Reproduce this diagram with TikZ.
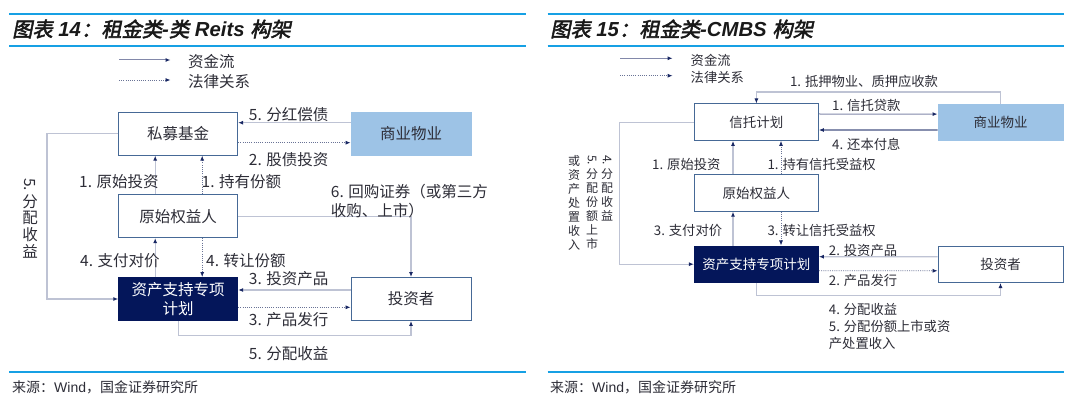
\documentclass[tikz,border=0pt]{standalone}
\usepackage{fontspec}
\setmainfont{Noto Sans CJK SC}
\newfontfamily\latinsans{Liberation Sans}
\newfontfamily\titlecjk{Noto Sans CJK SC}[FakeBold=2.5,FakeSlant=0.2]
\usetikzlibrary{arrows.meta}

\definecolor{ruleblue}{RGB}{22,160,228}
\definecolor{boxblue}{RGB}{70,105,150}
\definecolor{navy}{RGB}{4,22,90}
\definecolor{lightblue}{RGB}{157,195,230}
\definecolor{flowgrey}{RGB}{190,195,212}
\definecolor{legendgrey}{RGB}{130,136,170}
\definecolor{legalgrey}{RGB}{105,115,150}
\definecolor{tipnavy}{RGB}{25,40,100}
\definecolor{txt}{RGB}{45,45,55}

\newcommand\tlat[1]{{\latinsans\bfseries\itshape #1}}
\newcommand\sidenum[1]{\raisebox{0.8em}{\rotatebox{-90}{#1}}}

\tikzset{
  rule/.style={draw=ruleblue, line width=2pt},
  ttl/.style={inner sep=0pt, anchor=west, text=black!90, font=\fontsize{20.3}{23}\selectfont},
  src/.style={inner sep=0pt, anchor=west, text=txt, font=\fontsize{14}{16}\selectfont},
  box/.style={draw=boxblue, line width=0.9pt, fill=white, inner sep=0pt, text=txt},
  bigbox/.style={box, minimum width=119pt, minimum height=43pt, font=\fontsize{15.5}{18.3}\selectfont},
  smallbox/.style={box, minimum width=124pt, minimum height=36.5pt, font=\fontsize{13.5}{16}\selectfont},
  prop/.style={fill=lightblue, draw=lightblue},
  plan/.style={fill=navy, draw=navy, text=white},
  flow/.style={draw=flowgrey, line width=1.3pt, -{Latex[length=5pt,width=4pt,color=tipnavy]}},
  legal/.style={draw=legalgrey, line width=0.8pt, dash pattern=on 1pt off 1.2pt, -{Latex[length=5pt,width=4pt,color=tipnavy]}},
  lbl/.style={inner sep=0pt, anchor=west, text=txt, font=\fontsize{15.5}{19}\selectfont},
  lbltwo/.style={inner sep=0pt, anchor=west, text=txt, font=\fontsize{13.3}{17}\selectfont},
  vlbl/.style={inner sep=0pt, align=center, text=txt, font=\fontsize{15.5}{16.7}\selectfont},
  vlbltwo/.style={inner sep=0pt, anchor=north, align=center, text=txt, font=\fontsize{12}{14}\selectfont}
}

\begin{document}
\begin{tikzpicture}[x=1pt, y=-1pt]
	\fill[white] (0,0) rectangle (1080,401);
	\useasboundingbox (0,0) rectangle (1080,401);
	
	% left: rent class REITs
	\draw[rule] (9.3,14) -- (526,14);
	\draw[rule] (9.3,45.7) -- (526,45.7);
	\draw[rule] (9.3,372) -- (526,372);
	\node[ttl] (t14) at (12,29) {{\titlecjk 图表}\tlat{ 14}{\titlecjk ：租金类}\tlat{-}{\titlecjk 类}\tlat{ Reits }{\titlecjk 构架}};
	
	\coordinate (lga) at (119,60);
	\coordinate (lgb) at (119,80);
	\draw[flow, draw=legendgrey, line width=1pt] (lga) -- ++(51.5,0);
	\draw[legal] (lgb) -- ++(51.5,0);
	\node[lbl] (lgt1) at (188,62) {资金流};
	\node[lbl] (lgt2) at (188,82) {法律关系};
	
	\node[bigbox] (pm) at (178.2,133.7) {私募基金};
	\node[bigbox, prop, minimum width=120pt] (sy) at (411,133.7) {商业物业};
	\node[bigbox] (ys) at (178.2,216.2) {原始权益人};
	\node[bigbox, plan, align=center] (zc) at (178.2,299) {资产支持专项\\计划};
	\node[bigbox, minimum width=120pt] (tz) at (411,299) {投资者};
	
	\draw[flow] ([yshift=11pt]sy.west) -- ([yshift=11pt]pm.east);
	\draw[legal] ([yshift=-9pt]pm.east) -- ([yshift=-9pt]sy.west);
	\draw[flow] (pm.west) -- ++(-71.3,0) |- (zc.west);
	\draw[flow] ([xshift=-23pt]ys.north) -- ([xshift=-23pt]pm.south);
	\draw[legal] ([xshift=24pt]ys.north) -- ([xshift=24pt]pm.south);
	\draw[flow] ([xshift=-23pt]zc.north) -- ([xshift=-23pt]ys.south);
	\draw[legal] ([xshift=24pt]ys.south) -- ([xshift=24pt]zc.north);
	\draw[flow] (ys.east) -| (tz.north);
	\draw[flow] ([yshift=9pt]tz.west) -- ([yshift=9pt]zc.east);
	\draw[legal] ([yshift=-8.3pt]zc.east) -- ([yshift=-8.3pt]tz.west);
	\draw[flow] (zc.south) -- ++(0,14.3) -| (tz.south);
	
	\node[lbl] (l5a) at (248.7,115) {5. 分红偿债};
	\node[lbl] (l2a) at (248.7,159.3) {2. 股债投资};
	\node[lbl] (l1a) at (79,182) {1. 原始投资};
	\node[lbl] (l1b) at (201.5,182) {1. 持有份额};
	\node[lbl, anchor=north west, align=left] (l6) at (330.7,184) {6. 回购证券（或第三方\\收购、上市）};
	\node[lbl] (l4a) at (80,260.7) {4. 支付对价};
	\node[lbl] (l4b) at (206,260.7) {4. 转让份额};
	\node[lbl] (l3a) at (248.7,278.3) {3. 投资产品};
	\node[lbl] (l3b) at (248.7,319.3) {3. 产品发行};
	\node[lbl] (l5b) at (248.7,354) {5. 分配收益};
	\node[vlbl] (l5c) at (30,218) {\sidenum{5.}\\分\\配\\收\\益};
	
	\node[src] (s14) at (12,387) {来源：{\latinsans Wind}，国金证券研究所};
	
	% right: rent class CMBS
	\draw[rule] (547.6,14) -- (1064,14);
	\draw[rule] (547.6,45.7) -- (1064,45.7);
	\draw[rule] (547.6,372) -- (1064,372);
	\node[ttl] (t15) at (550,29) {{\titlecjk 图表}\tlat{ 15}{\titlecjk ：租金类}\tlat{-CMBS }{\titlecjk 构架}};
	
	\coordinate (rga) at (620,58.3);
	\coordinate (rgb) at (620,75.7);
	\draw[flow, draw=legendgrey, line width=1pt] (rga) -- ++(52.6,0);
	\draw[legal] (rgb) -- ++(52.6,0);
	\node[lbltwo] (rgt1) at (690.5,60) {资金流};
	\node[lbltwo] (rgt2) at (690.5,77) {法律关系};
	
	\node[smallbox] (xt) at (756.4,122.2) {信托计划};
	\node[smallbox, prop, minimum width=125pt] (sy2) at (1000.5,122.3) {商业物业};
	\node[smallbox] (ys2) at (756.4,193) {原始权益人};
	\node[smallbox, plan] (zc2) at (756.4,264.2) {资产支持专项计划};
	\node[smallbox, minimum width=125pt] (tz2) at (1000.5,264.3) {投资者};
	
	\draw[flow] (sy2.north) -- ++(0,-11.7) -| (xt.north);
	\draw[flow, draw=legendgrey, line width=1pt] ([yshift=8.2pt]xt.east) -- ([yshift=8.2pt]sy2.west);
	\draw[flow, draw=tipnavy!80, line width=1.3pt] ([yshift=-7.8pt]sy2.west) -- ([yshift=-7.8pt]xt.east);
	\draw[flow] (xt.west) -- ++(-74.3,0) |- (zc2.west);
	\draw[flow] ([xshift=-23.4pt]ys2.north) -- ([xshift=-23.4pt]xt.south);
	\draw[legal] ([xshift=24.6pt]ys2.north) -- ([xshift=24.6pt]xt.south);
	\draw[flow] ([xshift=-23.4pt]zc2.north) -- ([xshift=-23.4pt]ys2.south);
	\draw[legal] ([xshift=24.6pt]ys2.south) -- ([xshift=24.6pt]zc2.north);
	\draw[flow] ([yshift=7.5pt]tz2.west) -- ([yshift=7.5pt]zc2.east);
	\draw[legal] ([yshift=-6.5pt]zc2.east) -- ([yshift=-6.5pt]tz2.west);
	\draw[flow] (zc2.south) -- ++(0,12.3) -| (tz2.south);
	
	\node[lbltwo] (r1a) at (789.8,81.7) {1. 抵押物业、质押应收款};
	\node[lbltwo] (r1b) at (832,105.3) {1. 信托贷款};
	\node[lbltwo] (r4a) at (832,144) {4. 还本付息};
	\node[lbltwo] (r1c) at (652,164.3) {1. 原始投资};
	\node[lbltwo] (r1d) at (767.4,164.3) {1. 持有信托受益权};
	\node[lbltwo] (r3a) at (653.7,230.7) {3. 支付对价};
	\node[lbltwo] (r3b) at (767.4,230.7) {3. 转让信托受益权};
	\node[lbltwo] (r2a) at (828.7,250.7) {2. 投资产品};
	\node[lbltwo] (r2b) at (828.7,280.7) {2. 产品发行};
	\node[lbltwo, anchor=north west, align=left] (r45) at (828.7,303.5) {4. 分配收益\\5. 分配份额上市或资\\产处置收入};
	\node[vlbltwo] (r4c) at (607,155) {\sidenum{4.}\\分\\配\\收\\益};
	\node[vlbltwo] (r5c) at (592,155) {\sidenum{5.}\\分\\配\\份\\额\\上\\市};
	\node[vlbltwo] (r6c) at (574,155) {或\\资\\产\\处\\置\\收\\入};
	
	\node[src] (s15) at (550,387) {来源：{\latinsans Wind}，国金证券研究所};
	
\end{tikzpicture}
\end{document}
